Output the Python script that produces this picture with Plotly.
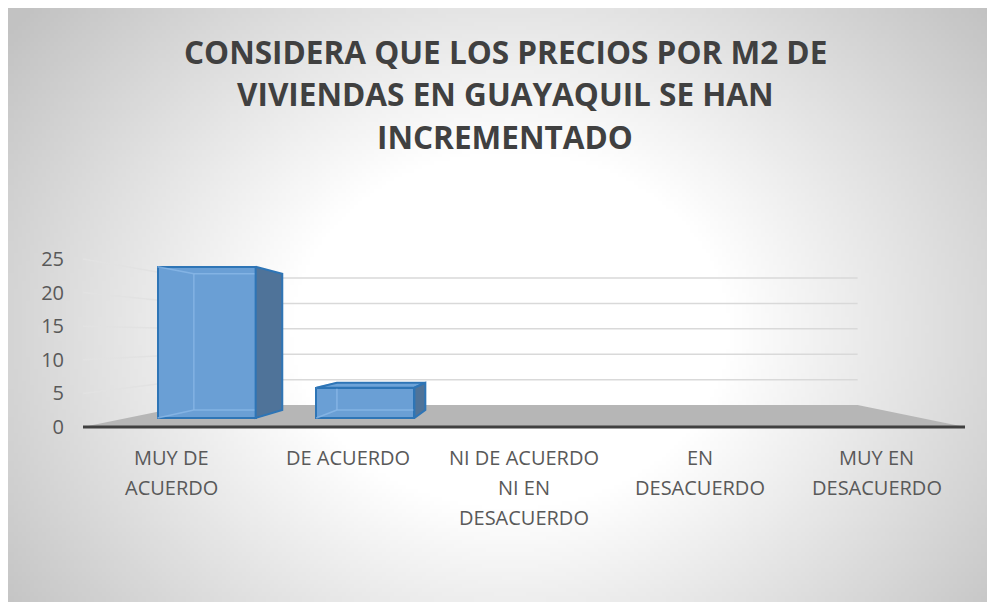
import base64
import struct
import zlib

import numpy as np
import plotly.graph_objects as go

# ---------------- data ----------------
categories = ["MUY DE ACUERDO", "DE ACUERDO", "NI DE ACUERDO NI EN DESACUERDO",
              "EN DESACUERDO", "MUY EN DESACUERDO"]
category_lines = [["MUY DE", "ACUERDO"], ["DE ACUERDO"],
                  ["NI DE ACUERDO", "NI EN", "DESACUERDO"],
                  ["EN", "DESACUERDO"], ["MUY EN", "DESACUERDO"]]
values = [25, 5, 0, 0, 0]
y_ticks = [0, 5, 10, 15, 20, 25]
title_lines = ["CONSIDERA QUE LOS PRECIOS POR M2 DE",
               "VIVIENDAS EN GUAYAQUIL SE HAN", "INCREMENTADO"]

# ---------------- geometry ----------------
OFF = 8               # page body margin
W, H = 995 - OFF, 602 - OFF
PX_X = 176.4          # px per category on the front plane
X0_PX = 83.0 - OFF    # px of x = -0.5
PX_Y = 6.72           # px per unit on the front plane
Y0_PX = 427.0 - OFF   # px of y = 0
ML, MR, MT, MB = 57, 4, 241, 165
PW, PH = W - ML - MR, H - MT - MB
x_range = [-0.5 - (X0_PX - ML) / PX_X, -0.5 + (W - MR - X0_PX) / PX_X]
y_range = [-(MT + PH - Y0_PX) / PX_Y, (Y0_PX - MT) / PX_Y]

VX = (525 - OFF - X0_PX) / PX_X - 0.5      # vanishing point (data coords)
VY = (Y0_PX - (337 - OFF)) / PX_Y
S_BACK = 0.756        # back wall scale
S_BF = 0.90           # bar front scale
S_BB = 0.811          # bar back scale
HW = 0.309            # bar half width (front plane units)


def proj(x, y, s):
    return VX + s * (x - VX), VY + s * (y - VY)


def py2paper(py):      # py in reference pixels
    return (MT + PH - (py - OFF)) / PH


def px2paper(px):
    return (px - OFF - ML) / PW


# ---------------- background gradient image ----------------
gw, gh = 247, 149
bx0, by0, bx1, by1 = OFF, OFF, 995, 602      # reference pixels
jj = (np.arange(gw) + 0.5) / gw * (bx1 - bx0) + bx0
ii = (np.arange(gh) + 0.5) / gh * (by1 - by0) + by0
XX, YY = np.meshgrid(jj, ii)
t = np.sqrt(((XX - 510) / 490.0) ** 2 + ((YY - 330) / 400.0) ** 2)
g = 255 - 74 * np.clip(t - 0.45, 0, None)
g = np.clip(g, 194, 255).astype(np.uint8)
rgb = np.stack([g, g, g], axis=-1)


def png_bytes(arr):
    h, w, _ = arr.shape
    raw = b"".join(b"\x00" + arr[r].tobytes() for r in range(h))

    def chunk(tag, data):
        c = struct.pack(">I", len(data)) + tag + data
        return c + struct.pack(">I", zlib.crc32(tag + data) & 0xffffffff)

    return (b"\x89PNG\r\n\x1a\n" + chunk(b"IHDR", struct.pack(">IIBBBBB", w, h, 8, 2, 0, 0, 0))
            + chunk(b"IDAT", zlib.compress(raw, 9)) + chunk(b"IEND", b""))


bg_uri = "data:image/png;base64," + base64.b64encode(png_bytes(rgb)).decode()

fig = go.Figure()

# ---------------- walls / floor as shapes ----------------
shapes = []
fl = [proj(-0.5, 0, 1), proj(4.5, 0, 1), proj(4.5, 0, S_BACK), proj(-0.5, 0, S_BACK)]
shapes.append(dict(type="path", xref="x", yref="y", layer="below",
                   path="M " + " L ".join(f"{a},{b}" for a, b in fl) + " Z",
                   fillcolor="#b6b6b6", line=dict(width=0)))
for tv in y_ticks[1:]:
    a = proj(-0.5, tv, 1)
    b = proj(-0.5, tv, S_BACK)
    c = proj(4.5, tv, S_BACK)
    shapes.append(dict(type="line", xref="x", yref="y", layer="below",
                       x0=a[0], y0=a[1], x1=b[0], y1=b[1],
                       line=dict(color="#e2e2e2", width=1.5)))
    shapes.append(dict(type="line", xref="x", yref="y", layer="below",
                       x0=b[0], y0=b[1], x1=c[0], y1=c[1],
                       line=dict(color="#d9d9d9", width=1.5)))
shapes.append(dict(type="line", xref="x", yref="y", layer="below",
                   x0=-0.5, y0=0, x1=4.5, y1=0,
                   line=dict(color="#404040", width=3)))

# ---------------- bars ----------------
xs = list(range(len(categories)))
front_x = [VX + S_BF * (i - VX) for i in xs]
fig.add_trace(go.Bar(
    x=front_x, y=[S_BF * v for v in values], base=VY * (1 - S_BF),
    width=2 * HW * S_BF,
    marker=dict(color="#6a9fd5",
                line=dict(color="#2e75b6", width=[2 if v > 0 else 0 for v in values])),
    hoverinfo="skip", showlegend=False))

hx, hy = [], []
side_traces = []
for i, v in zip(xs, values):
    if v <= 0:
        continue
    bl0, br0 = proj(i - HW, 0, S_BB), proj(i + HW, 0, S_BB)
    bl1, br1 = proj(i - HW, v, S_BB), proj(i + HW, v, S_BB)
    fl0, fr0 = proj(i - HW, 0, S_BF), proj(i + HW, 0, S_BF)
    fl1, fr1 = proj(i - HW, v, S_BF), proj(i + HW, v, S_BF)
    for seg in [(bl0, bl1), (bl1, br1), (bl0, br0), (fl0, bl0), (fl1, bl1)]:
        hx += [seg[0][0], seg[1][0], None]
        hy += [seg[0][1], seg[1][1], None]
    if v < VY:
        side_traces.append(("#6da3d8", [fl1, fr1, br1, bl1, fl1]))
    if i + HW < VX:
        side_traces.append(("#4f7399", [fr1, br1, br0, fr0, fr1]))
    elif i - HW > VX:
        side_traces.append(("#4f7399", [fl1, bl1, bl0, fl0, fl1]))

fig.add_trace(go.Scatter(x=hx, y=hy, mode="lines",
                         line=dict(color="rgba(140,185,232,0.75)", width=1.5),
                         hoverinfo="skip", showlegend=False))
for col, poly in side_traces:
    fig.add_trace(go.Scatter(x=[p[0] for p in poly], y=[p[1] for p in poly],
                             mode="lines", fill="toself", fillcolor=col,
                             line=dict(color="#2e75b6", width=2),
                             hoverinfo="skip", showlegend=False))

# ---------------- texts ----------------
annotations = []
title_y = [52, 93, 136]
for line, yy in zip(title_lines, title_y):
    annotations.append(dict(text=line, xref="paper", yref="paper",
                            x=px2paper(505), y=py2paper(yy), xanchor="center",
                            yanchor="middle", showarrow=False,
                            font=dict(family="Open Sans", size=31.5, color="#404040",
                                      weight="bold")))
for i, lines in zip(xs, category_lines):
    for k, line in enumerate(lines):
        annotations.append(dict(text=line, xref="x", yref="paper",
                                x=i, y=py2paper(457.5 + 30 * k), xanchor="center",
                                yanchor="middle", showarrow=False,
                                font=dict(family="Open Sans", size=20, color="#595959")))

fig.update_layout(
    width=W, height=H, autosize=False,
    margin=dict(l=ML, r=MR, t=MT, b=MB, pad=0),
    paper_bgcolor="white", plot_bgcolor="rgba(0,0,0,0)",
    shapes=shapes, annotations=annotations, bargap=0,
    images=[dict(source=bg_uri, xref="paper", yref="paper",
                 x=px2paper(bx0), y=py2paper(by0),
                 sizex=(bx1 - bx0) / PW, sizey=(by1 - by0) / PH,
                 xanchor="left", yanchor="top", sizing="stretch", layer="below")],
    xaxis=dict(range=x_range, showgrid=False, zeroline=False, showline=False,
               showticklabels=False, fixedrange=True),
    yaxis=dict(range=y_range, showgrid=False, zeroline=False, showline=False,
               tickvals=y_ticks, ticktext=[str(v) for v in y_ticks],
               tickfont=dict(family="Open Sans", size=20, color="#595959"),
               ticks="", fixedrange=True),
    showlegend=False,
)

fig.write_html("out.html")
